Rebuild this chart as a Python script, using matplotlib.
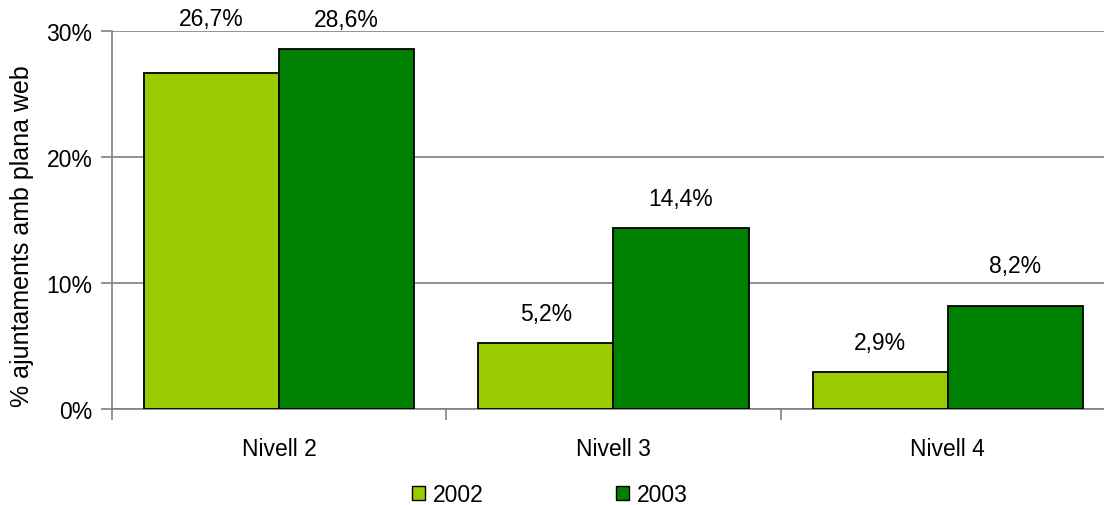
import matplotlib
matplotlib.use("Agg")
import matplotlib.pyplot as plt
import numpy as np
from matplotlib.patches import Patch

categories = ["Nivell 2", "Nivell 3", "Nivell 4"]
series_names = ["2002", "2003"]
values_2002 = [26.7, 5.2, 2.9]
values_2003 = [28.6, 14.4, 8.2]
y_ticks = [0, 10, 20, 30]
y_label = "% ajuntaments amb plana web"

# style
colors = ["#99CC00", "#008000"]
label_offsets_pt = [[31, 13], [13, 13], [13, 21]]  # per category, per series
fs = 16.5

plt.rcParams['font.family'] = ['Liberation Sans', 'DejaVu Sans']
fig = plt.figure(figsize=(11.04, 5.06), dpi=100)
ax = fig.add_axes([112/1104, 96/506, (1115-112)/1104, (410-32)/506])

x = np.arange(len(categories))
w = 135/334
series = [values_2002, values_2003]
for si, vals in enumerate(series):
    xs = x + (si - 0.5) * w
    ax.bar(xs, vals, width=w, color=colors[si], edgecolor="black", linewidth=1.3, zorder=3)
    for ci, (xx, v) in enumerate(zip(xs, vals)):
        ax.annotate(f"{v:.1f}%".replace(".", ","), (xx, v), xytext=(0, label_offsets_pt[ci][si]),
                    textcoords="offset points", ha="center", va="bottom", fontsize=fs,
                    annotation_clip=False, zorder=4)

ax.set_xlim(-0.5, len(categories) - 0.5)
ax.set_ylim(0, 30)
ax.set_yticks(y_ticks)
ax.set_yticklabels([f"{t}%" for t in y_ticks], fontsize=fs)
ax.yaxis.grid(True, color="#808080", linewidth=1.2, zorder=0)
ax.set_axisbelow(True)

ax.set_xticks(x)
ax.set_xticklabels(categories, fontsize=fs)
ax.tick_params(axis="x", length=0, pad=20)
ax.set_xticks(np.arange(len(categories) + 1) - 0.5, minor=True)
ax.tick_params(axis="x", which="minor", length=8, color="#808080", width=1.2, direction="out")
ax.tick_params(axis="y", length=8, color="#808080", width=1.2, pad=6)

for s in ["top", "right"]:
    ax.spines[s].set_visible(False)
for s in ["left", "bottom"]:
    ax.spines[s].set_color("#808080")
    ax.spines[s].set_linewidth(1.2)

ax.set_ylabel(y_label, fontsize=18)
ax.yaxis.set_label_coords(-0.078, 0.46)

handles = [Patch(facecolor=c, edgecolor="black", linewidth=1.0) for c in colors]
fig.legend(handles, series_names, loc="center", bbox_to_anchor=(550/1104, 1 - 496/506),
           ncol=2, frameon=False, fontsize=fs, handlelength=0.55, handleheight=0.55,
           handletextpad=0.35, columnspacing=5.8)

fig.savefig("out.png", dpi=100)
